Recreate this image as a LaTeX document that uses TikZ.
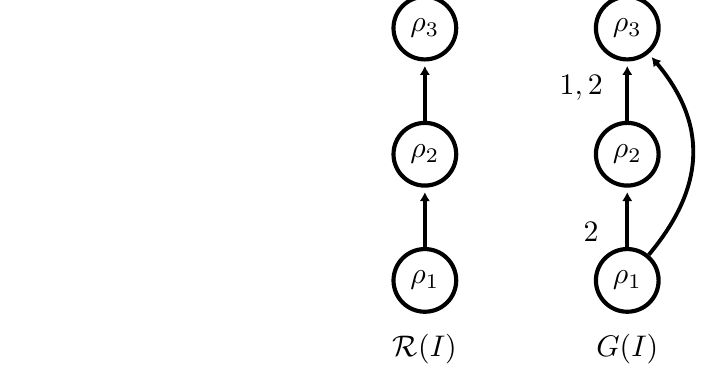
\documentclass[tikz,border=0pt]{standalone}
\usepackage{tikz}
\usetikzlibrary{positioning,arrows.meta}

\begin{document}
\begin{tikzpicture}
\tikzstyle{state}=[circle,draw,line width=1.4pt,minimum size=0.74cm,inner sep=0pt]
\tikzstyle{trans}=[-{Latex[length=3pt,width=3.5pt]},line width=1.3pt,shorten >=1.5pt]
\useasboundingbox (0,0) rectangle (8.31,4.37);
% R(I)
\node[state] (r1) at (5.015,1.06) {$\rho_1$};
\node[state,above=0.7cm of r1] (r2) {$\rho_2$};
\node[state,above=0.7cm of r2] (r3) {$\rho_3$};
\node[below=0.12cm of r1] (rlab) {$\mathcal{R}(I)$};
% G(I)
\node[state,right=1.6cm of r1] (g1) {$\rho_1$};
\node[state,above=0.7cm of g1] (g2) {$\rho_2$};
\node[state,above=0.7cm of g2] (g3) {$\rho_3$};
\node[below=0.12cm of g1] (glab) {$G(I)$};
\draw[trans] (r1) -- (r2);
\draw[trans] (r2) -- (r3);
\draw[trans] (g1) -- node[left,pos=0.25,xshift=-0.2cm]{$2$} (g2);
\draw[trans] (g2) -- node[left,pos=0.55,xshift=-0.15cm]{$1,2$} (g3);
\draw[trans] (g1) to[bend right=40,looseness=1.15] node[right]{$1$} (g3);
\end{tikzpicture}
\end{document}
